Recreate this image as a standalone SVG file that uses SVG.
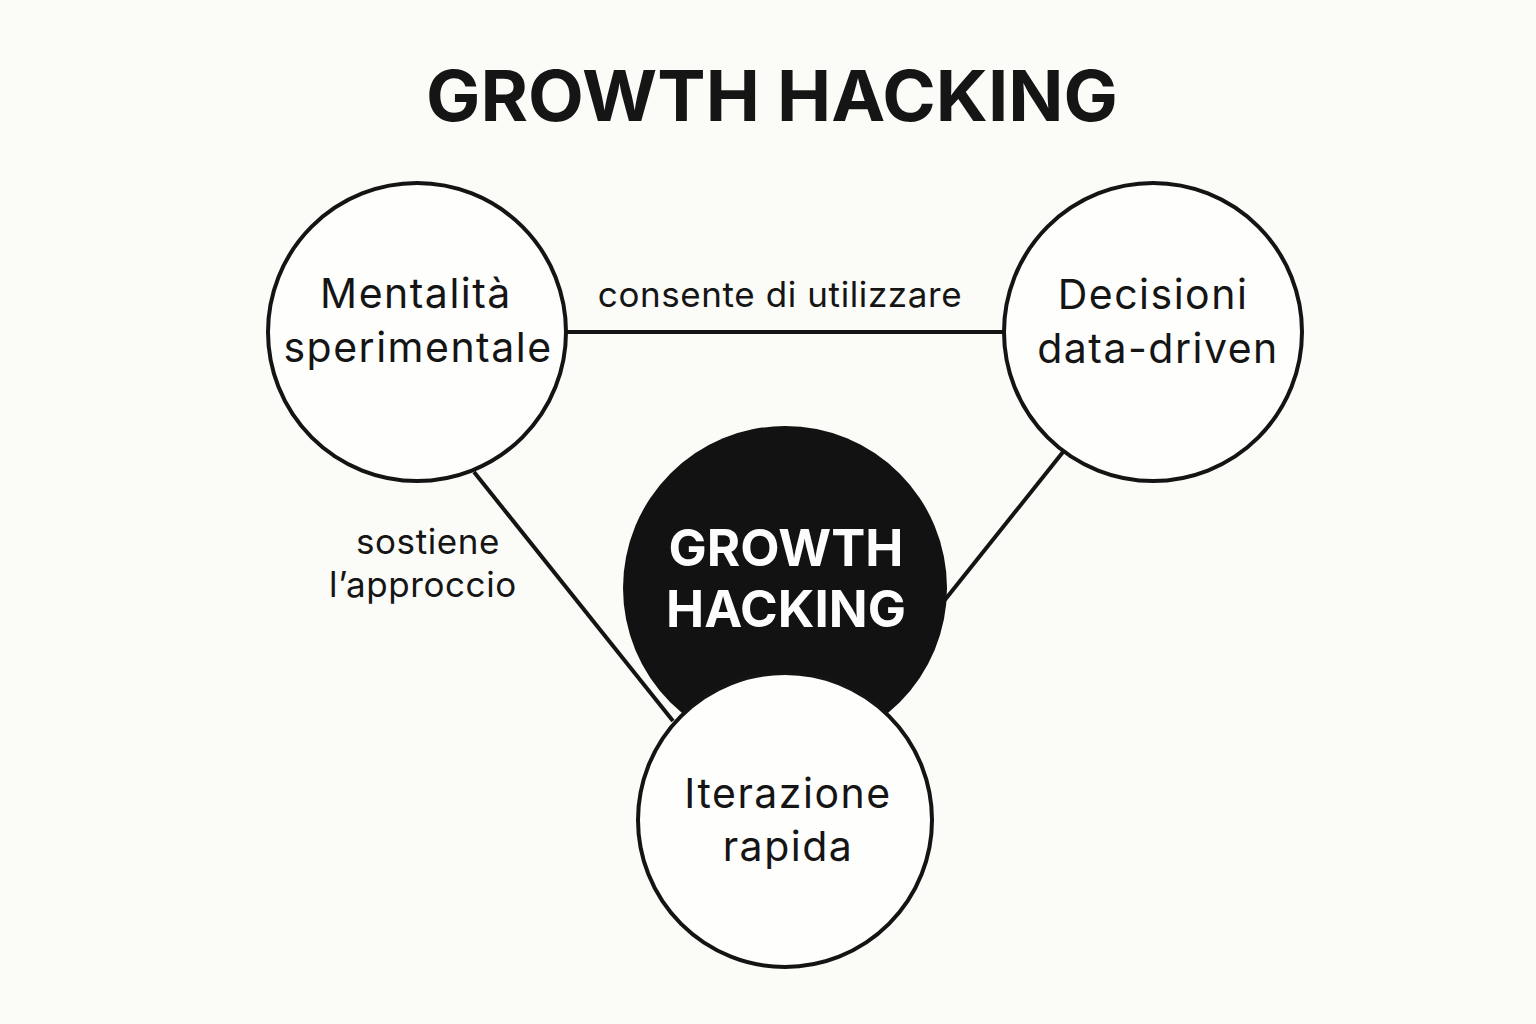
<svg xmlns="http://www.w3.org/2000/svg" width="1536" height="1024" viewBox="0 0 1536 1024">
<style>
.bg{fill:#fbfbf8}
.node{fill:#fefefd;stroke:#141414;stroke-width:4}
.hub{fill:#121212}
.edge{stroke:#141414;stroke-width:4;fill:none}
.t{font-family:Inter,"Liberation Sans",sans-serif;fill:#151515;text-anchor:middle}
.lbl{font-size:41px;letter-spacing:1.5px}
.edl{font-size:35px;letter-spacing:0.6px}
.title{font-size:70px;font-weight:700}
.hubt{font-size:51px;font-weight:700;fill:#fdfdfd}
</style>
<rect class="bg" width="1536" height="1024"/>
<text class="t title" x="772" y="121" textLength="692" lengthAdjust="spacingAndGlyphs">GROWTH HACKING</text>
<g id="connectors">
<line class="edge" x1="567" y1="332" x2="1003" y2="332"/>
<line class="edge" x1="474" y1="472" x2="673" y2="721"/>
<line class="edge" x1="1063" y1="452" x2="944" y2="601"/>
<text class="t edl" x="780" y="307">consente di utilizzare</text>
<text class="t edl" x="428" y="554">sostiene</text>
<text class="t edl" x="423" y="597">l’approccio</text>
</g>
<g id="hub">
<circle class="hub" cx="785" cy="588" r="162"/>
<text class="t hubt" x="786" y="566">GROWTH</text>
<text class="t hubt" x="786" y="627">HACKING</text>
</g>
<g id="mentalita">
<circle class="node" cx="417" cy="332" r="149"/>
<text class="t lbl" x="416" y="308">Mentalità</text>
<text class="t lbl" x="418" y="362">sperimentale</text>
</g>
<g id="decisioni">
<circle class="node" cx="1153" cy="332" r="149"/>
<text class="t lbl" x="1153" y="309">Decisioni</text>
<text class="t lbl" x="1158" y="363">data-driven</text>
</g>
<g id="iterazione">
<circle class="node" cx="785" cy="820" r="147"/>
<text class="t lbl" x="788" y="808">Iterazione</text>
<text class="t lbl" x="788" y="861">rapida</text>
</g>
</svg>
